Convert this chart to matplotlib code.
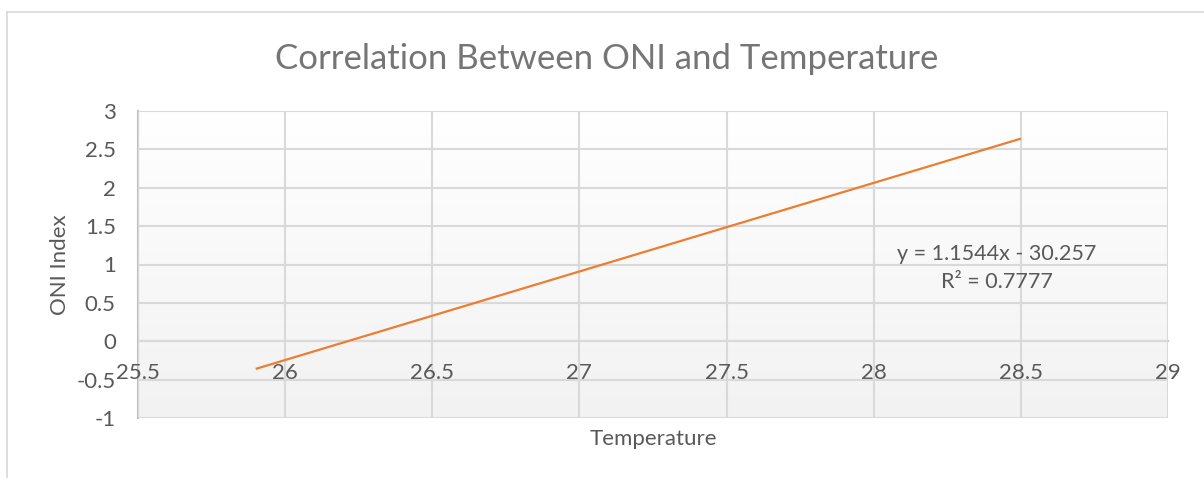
import numpy as np
import matplotlib
matplotlib.use("Agg")
import matplotlib.pyplot as plt
from matplotlib.lines import Line2D

plt.rcParams['font.family'] = ['Lato', 'DejaVu Sans']

# trendline
temp = [25.9, 28.5]
oni = [-0.36, 2.64]
eq_text = "y = 1.1544x - 30.257"
r2_text = "R\u00b2 = 0.7777"
x_ticks = [25.5, 26, 26.5, 27, 27.5, 28, 28.5, 29]
y_ticks = [-1, -0.5, 0, 0.5, 1, 1.5, 2, 2.5, 3]

txt = '#595959'
grid = '#d9d9d9'

fig = plt.figure(figsize=(12.04, 4.78), dpi=100)
ax = fig.add_axes([138/1204, 60/478, 1030/1204, 307/478])

# plot area gradient (white top -> light grey bottom)
grad = np.linspace(1.0, 0.0, 256).reshape(-1, 1)
ax.imshow(grad, extent=[25.5, 29, -1, 3], aspect='auto', origin='upper',
          cmap=matplotlib.colors.LinearSegmentedColormap.from_list('g', ['#f2f2f2', '#ffffff']),
          zorder=0)

ax.plot(temp, oni, color='#ed7d31', lw=1.6, zorder=3, solid_capstyle='butt')

ax.set_xlim(25.5, 29)
ax.set_ylim(-1, 3)
ax.set_xticks(x_ticks)
ax.set_yticks(y_ticks)
ax.set_xticklabels([('%g' % v) for v in x_ticks])
ax.set_yticklabels([('%g' % v) for v in y_ticks])
ax.grid(True, color=grid, lw=1.5, zorder=1)
ax.set_axisbelow(False)

for s in ['top', 'right']:
    ax.spines[s].set_visible(False)
ax.spines['left'].set_color('#bfbfbf')
ax.spines['left'].set_linewidth(1.5)
ax.spines['bottom'].set_position(('data', 0))
ax.spines['bottom'].set_color('#bfbfbf')
ax.spines['bottom'].set_linewidth(1.5)
ax.tick_params(length=0, labelsize=16, colors=txt)
ax.tick_params(axis='x', pad=16)
ax.tick_params(axis='y', pad=16)

ax.set_xlabel('Temperature', fontsize=16, color=txt, labelpad=0)
ax.xaxis.set_label_coords(0.5, -0.035)
ax.set_ylabel('ONI Index', fontsize=16, color=txt)
ax.yaxis.set_label_coords(-0.066, 0.5)

ax.text(0.834, 0.49, eq_text + "\n" + r2_text, transform=ax.transAxes,
        ha='center', va='center', fontsize=15.5, color=txt, linespacing=1.5)

fig.text(0.504, 0.877, 'Correlation Between ONI and Temperature',
         ha='center', va='center', fontsize=25, color='#757575')

# chart area border
fig.add_artist(Line2D([7/1204, 7/1204], [0, 1 - 12/478], color=grid, lw=1.2,
                      transform=fig.transFigure))
fig.add_artist(Line2D([7/1204, 1], [1 - 12/478, 1 - 12/478], color=grid, lw=1.2,
                      transform=fig.transFigure))

fig.savefig('out.png', dpi=100, facecolor='white')
